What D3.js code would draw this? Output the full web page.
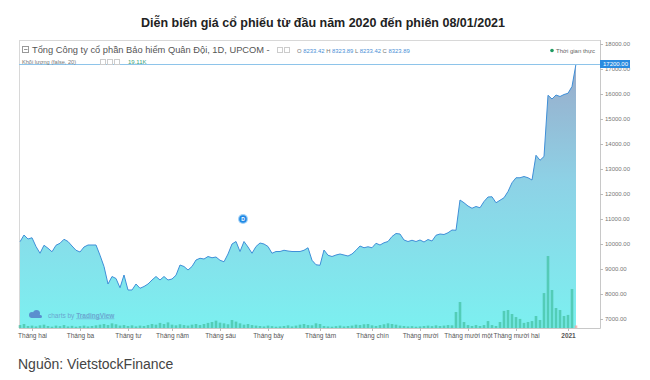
<!DOCTYPE html>
<html lang="vi">
<head>
<meta charset="UTF-8">
<title>Diễn biến giá cổ phiếu</title>
<script src="https://d3js.org/d3.v7.min.js"></script>
<style>
  body { margin: 0; background: #fff; font-family: Arial, sans-serif; }
  svg { display: block; }
</style>
</head>
<body>
<div id="chart"></div>
<script>
const title = "Diễn biến giá cổ phiếu từ đầu năm 2020 đến phiên 08/01/2021";
const source = "Nguồn: VietstockFinance";
const symbolName = "Tổng Công ty cổ phần Bảo hiểm Quân Đội, 1D, UPCOM -";

// closing price, one point about every 2 sessions
const prices = [
  10090, 10360, 10200, 10250, 9900, 9630, 9950, 9830, 9690, 9950,
  10030, 10190, 10100, 9920, 9750, 9680, 9880, 9960, 9960, 9960,
  9550, 9100, 8400, 8700, 8620, 8250, 8760, 8160, 8160, 8400,
  8230, 8300, 8400, 8560, 8700, 8560, 8700, 8560, 8600, 8750,
  9160, 9100, 8960, 9100, 9360, 9430, 9400, 9500, 9450, 9480,
  9350, 9290, 9600, 10000, 10100, 9700, 10100, 9880, 9630, 9900,
  10040, 10000, 9900, 9630, 9700, 9700, 9750, 9720, 9700, 9700,
  9700, 9750, 9850, 9350, 9170, 9150, 9760, 9550, 9500, 9560,
  9600, 9560, 9520, 9600, 9750, 9920, 9850, 9890, 9850, 10030,
  9960, 10050, 10100, 10300, 10420, 10400, 10160, 10100, 10150, 10100,
  10160, 10080, 10180, 10120, 10350, 10400, 10380, 10450, 10560, 10550,
  11760, 11650, 11520, 11430, 11500, 11450, 11700, 11880, 11890, 11650,
  11750, 11850, 12100, 12450, 12650, 12650, 12700, 12650, 12560, 13550,
  13350, 13500, 15950, 15800, 15960, 15900, 15980, 16030, 16300, 17200
];

// volume, thousand shares
const volumes = [
  22, 30, 15, 18, 12, 20, 25, 15, 10, 18, 14, 22, 12, 16, 10, 14, 18, 12, 15, 20,
  25, 30, 22, 35, 28, 18, 22, 15, 20, 12, 18, 15, 22, 30, 25,
  38, 30, 42, 25, 20, 28, 22, 18, 25, 30,
  22, 30, 38, 45, 55, 40, 35, 28, 60, 48, 35, 25, 30, 22, 18,
  15, 12, 18, 14, 10, 12, 15, 20, 12, 18, 25, 30, 22, 20, 35,
  30, 15, 12, 10, 14, 18, 12, 15, 18, 25, 22, 28, 30, 20, 15, 22, 28, 35, 30, 25,
  18, 15, 12, 14, 10, 12, 15, 18, 14, 20, 15, 18, 22, 20, 120,
  195, 45, 22, 15, 22, 15, 22, 52, 22, 15, 45, 128, 135, 105, 82, 68, 38, 45, 52, 90,
  60, 262, 540, 285, 150, 135, 90, 98, 292, 19
];
const redBars = [139];

const monthTicks = [3, 15, 27, 38, 50, 62, 75, 88, 100, 112, 124, 137];
const monthLabels = ["Tháng hai", "Tháng ba", "Tháng tư", "Tháng năm", "Tháng sáu", "Tháng bảy",
  "Tháng tám", "Tháng chín", "Tháng mười", "Tháng mười một", "Tháng mười hai", "2021"];
const priceTicks = [7000, 8000, 9000, 10000, 11000, 12000, 13000, 14000, 15000, 16000, 17000, 18000];
const lastPrice = 17200;
const dividendIndex = 56;

const W = 650, H = 380;
const pane = { left: 19, right: 600, top: 40, bottom: 328 };

const svg = d3.select("#chart").append("svg")
  .attr("width", W).attr("height", H);

const x = d3.scaleLinear().domain([0, prices.length - 1]).range([20, 576]);
const y = d3.scaleLinear().domain([7000, 18000]).range([319, 44]);
const v = d3.scaleLinear().domain([0, 600]).range([0, 80]);

const defs = svg.append("defs");
const grad = defs.append("linearGradient")
  .attr("id", "fillGrad")
  .attr("gradientUnits", "userSpaceOnUse")
  .attr("x1", 0).attr("y1", 64).attr("x2", 0).attr("y2", pane.bottom);
grad.append("stop").attr("offset", "0%").attr("stop-color", "#9aabca");
grad.append("stop").attr("offset", "45%").attr("stop-color", "#8dd2e6");
grad.append("stop").attr("offset", "100%").attr("stop-color", "#7cf0f0");

// title
svg.append("text")
  .attr("x", W / 2 - 2).attr("y", 27)
  .attr("text-anchor", "middle")
  .style("font-size", "12.5px").style("font-weight", "bold").style("fill", "#222")
  .text(title);

// pane border
svg.append("rect")
  .attr("x", pane.left + 0.5).attr("y", pane.top + 0.5)
  .attr("width", pane.right - pane.left).attr("height", pane.bottom - pane.top)
  .attr("fill", "none").attr("stroke", "#d8d8d8");

// area + volume + line
svg.append("path")
  .datum(prices)
  .attr("fill", "url(#fillGrad)")
  .attr("d", d3.area().x((d, i) => x(i)).y0(pane.bottom).y1(d => y(d)));

svg.selectAll(".vol")
  .data(volumes)
  .enter().append("rect")
  .attr("class", "vol")
  .attr("x", (d, i) => x(i) - 1.3)
  .attr("y", d => pane.bottom - v(d))
  .attr("width", 2.6)
  .attr("height", d => v(d))
  .attr("fill", (d, i) => redBars.includes(i) ? "#f2a6a0" : "#46c2a4")
  .attr("opacity", 0.75);

svg.append("path")
  .datum(prices)
  .attr("fill", "none")
  .attr("stroke", "#3f8fd8")
  .attr("stroke-width", 1)
  .attr("d", d3.line().x((d, i) => x(i)).y(d => y(d)));

// last price line
svg.append("line")
  .attr("x1", pane.left).attr("x2", pane.right)
  .attr("y1", y(lastPrice) + 0.5).attr("y2", y(lastPrice) + 0.5)
  .attr("stroke", "#8ec4ea").attr("stroke-width", 1);

// right price axis
svg.append("line")
  .attr("x1", pane.right + 0.5).attr("x2", pane.right + 0.5)
  .attr("y1", pane.top).attr("y2", pane.bottom)
  .attr("stroke", "#c8c8c8");
const ya = svg.append("g")
  .attr("transform", `translate(${pane.right},0)`)
  .call(d3.axisRight(y).tickValues(priceTicks).tickFormat(d3.format(".2f")).tickSize(3).tickPadding(2));
ya.select(".domain").remove();
ya.selectAll("line").attr("stroke", "#bbb");
ya.selectAll("text").style("font-size", "6px").style("fill", "#777").style("font-family", "Arial, sans-serif");

const lp = svg.append("g").attr("transform", `translate(${pane.right},${y(lastPrice)})`);
lp.append("rect").attr("x", 0).attr("y", -4).attr("width", 30).attr("height", 8).attr("fill", "#2a8be0");
lp.append("text").attr("x", 3).attr("y", 2.2)
  .style("font-size", "6px").style("fill", "#fff")
  .text(d3.format(".2f")(lastPrice));

// bottom time axis
svg.append("line")
  .attr("x1", pane.left).attr("x2", pane.right)
  .attr("y1", pane.bottom + 0.5).attr("y2", pane.bottom + 0.5)
  .attr("stroke", "#c8c8c8");
const xa = svg.append("g")
  .attr("transform", `translate(0,${pane.bottom})`)
  .call(d3.axisBottom(x).tickValues(monthTicks).tickFormat((d, i) => monthLabels[i]).tickSize(3).tickPadding(2));
xa.select(".domain").remove();
xa.selectAll("line").attr("stroke", "#bbb");
xa.selectAll("text")
  .style("font-size", "6.5px").style("fill", "#555").style("font-family", "Arial, sans-serif")
  .style("font-weight", (d, i) => monthLabels[i] === "2021" ? "bold" : "normal");

// dividend marker
const dm = svg.append("g").attr("transform", `translate(${x(dividendIndex) - 1},${y(11000)})`);
dm.append("circle").attr("r", 5).attr("fill", "#9fd0f7");
dm.append("circle").attr("r", 3.8).attr("fill", "#1e88e5");
dm.append("text").attr("y", 1.8).attr("text-anchor", "middle")
  .style("font-size", "5px").style("font-weight", "bold").style("fill", "#fff").text("D");

// legend header
const hdr = svg.append("g").style("font-family", "Arial, sans-serif");
hdr.append("rect").attr("x", 22.5).attr("y", 46.5).attr("width", 6).attr("height", 6)
  .attr("fill", "none").attr("stroke", "#999");
hdr.append("line").attr("x1", 24).attr("x2", 27.5).attr("y1", 49.5).attr("y2", 49.5).attr("stroke", "#999");
hdr.append("text").attr("x", 32).attr("y", 53)
  .style("font-size", "9.3px").style("fill", "#555").text(symbolName);
[277, 284].forEach(bx => hdr.append("rect").attr("x", bx + 0.5).attr("y", 47.5)
  .attr("width", 5).attr("height", 5).attr("fill", "none").attr("stroke", "#ccc"));
const ohlc = hdr.append("text").attr("x", 297).attr("y", 52.5).style("font-size", "5.9px");
[["O ", "8233.42"], [" H ", "8323.89"], [" L ", "8233.42"], [" C ", "8323.89"]].forEach(p => {
  ohlc.append("tspan").style("fill", "#777").text(p[0]);
  ohlc.append("tspan").style("fill", "#4a8fd6").text(p[1]);
});
hdr.append("circle").attr("cx", 552).attr("cy", 50.5).attr("r", 1.8).attr("fill", "#1f9a62");
hdr.append("text").attr("x", 556).attr("y", 52.5)
  .style("font-size", "6px").style("fill", "#666").text("Thời gian thực");

hdr.append("text").attr("x", 22).attr("y", 64)
  .style("font-size", "5.6px").style("fill", "#777").text("Khối lượng (false, 20)");
[100, 107, 114].forEach(bx => hdr.append("rect").attr("x", bx + 0.5).attr("y", 59.5)
  .attr("width", 5).attr("height", 5).attr("fill", "none").attr("stroke", "#ccc"));
hdr.append("text").attr("x", 128).attr("y", 64)
  .style("font-size", "6px").style("fill", "#3aa37a").text("19.11K");

// watermark
const wm = svg.append("g").attr("transform", "translate(29,316)");
wm.append("circle").attr("cx", 3).attr("cy", -1).attr("r", 3).attr("fill", "#5b8fcf");
wm.append("circle").attr("cx", 7.5).attr("cy", -2.5).attr("r", 3.5).attr("fill", "#5b8fcf");
wm.append("rect").attr("x", 2).attr("y", -1).attr("width", 11).attr("height", 3).attr("rx", 1.5).attr("fill", "#5b8fcf");
const wt = wm.append("text").attr("x", 19).attr("y", 1.5).style("font-size", "6.5px").style("fill", "#6aa6cf");
wt.append("tspan").text("charts by ");
wt.append("tspan").style("text-decoration", "underline").style("font-weight", "bold").text("TradingView");

// source
svg.append("text")
  .attr("x", 18).attr("y", 369)
  .style("font-size", "14px").style("fill", "#444")
  .text(source);
</script>
</body>
</html>
